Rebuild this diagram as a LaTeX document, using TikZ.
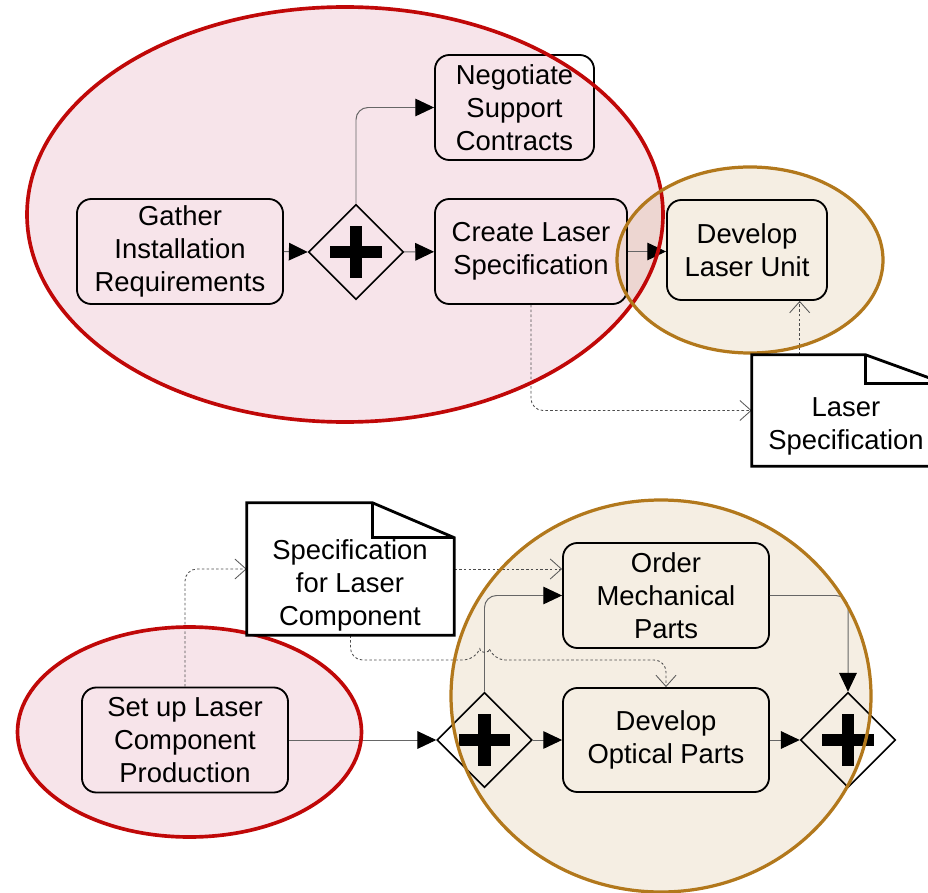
\documentclass[tikz,border=0pt]{standalone}
\usepackage{fontspec}
\setmainfont{Liberation Sans}
\usetikzlibrary{shapes.geometric,arrows.meta}

\definecolor{poolpink}{RGB}{247,228,234}
\definecolor{poolred}{RGB}{192,8,8}
\definecolor{pooltan}{RGB}{245,238,227}
\definecolor{poolbrown}{RGB}{178,120,28}
\definecolor{poolmix}{RGB}{237,214,209}

\begin{document}
\begin{tikzpicture}[x=0.025cm, y=-0.025cm,
    font=\fontsize{19.5}{23.5}\selectfont,
    task/.style={draw, line width=1.3pt, rounded corners=0.36cm, align=center,
        inner sep=0pt, minimum height=2.625cm},
    gateway/.style={draw, diamond, line width=1.1pt, inner sep=0pt,
        minimum width=2.375cm, minimum height=2.375cm,
        path picture={
            \fill ([xshift=-0.64cm,yshift=-0.16cm]path picture bounding box.center) rectangle ++(1.28cm,0.32cm);
            \fill ([xshift=-0.16cm,yshift=-0.64cm]path picture bounding box.center) rectangle ++(0.32cm,1.28cm);}},
    flow/.style={draw=black!60, line width=0.7pt, rounded corners=0.3cm,
        -{Triangle[length=0.47cm,width=0.44cm,color=black]}},
    assoc/.style={draw=black!70, line width=0.6pt, dash pattern=on 1.8pt off 1.6pt,
        rounded corners=0.3cm, -{Straight Barb[length=0.28cm,width=0.5cm,color=black!65]}},
    docline/.style={draw, fill=white, line width=2pt},
    doctext/.style={align=center, inner sep=0pt}]

    \useasboundingbox (0,0) rectangle (928,893);
    \clip (0,0) rectangle (928,893);

    % pools, filled first
    \fill [poolpink] (345,214.5) ellipse [x radius=318, y radius=207.5];
    \fill [pooltan] (750,260) ellipse [x radius=133, y radius=93];
    \begin{scope}
        \clip (345,214.5) ellipse [x radius=318, y radius=207.5];
        \fill [poolmix] (750,260) ellipse [x radius=133, y radius=93];
    \end{scope}
    \fill [poolpink] (189.5,732) ellipse [x radius=172, y radius=105];
    \fill [pooltan] (661,696) ellipse [x radius=210, y radius=196];

    % upper process
    \node [task, minimum width=5.15cm] (gather) at (180,251.5) {Gather\\Installation\\Requirements};
    \node [gateway] (g1) at (356,252) {};
    \node [task, minimum width=3.975cm] (negot) at (514.5,107.5) {Negotiate\\Support\\Contracts};
    \node [task, minimum width=4.8cm] (create) at (531,251.5) {Create Laser\\Specification};
    \node [task, minimum width=4cm, minimum height=2.5cm] (devunit) at (747,250) {Develop\\Laser Unit};

    % lower process
    \node [task, minimum width=5.15cm] (setup) at (185,740) {Set up Laser\\Component\\Production};
    \node [gateway] (g2) at (484.5,740) {};
    \node [task, minimum width=5.15cm] (ordermech) at (666,595.5) {Order\\Mechanical\\Parts};
    \node [task, minimum width=5.15cm, minimum height=2.6cm] (devopt) at (666,740) {Develop\\Optical Parts};
    \node [gateway] (g3) at (848,740) {};

    % data objects
    \node [minimum width=4.825cm, minimum height=2.775cm, inner sep=0pt] (lspec) at (848.5,410.5) {};
    \node [minimum width=5.175cm, minimum height=3.3cm, inner sep=0pt] (cspec) at (350.5,569) {};
    \coordinate (jump) at (484.5,660);

    % sequence flows
    \draw [flow] (gather.east) -- (g1.west);
    \draw [flow] (g1) -- (create);
    \draw [flow] (g1.north) |- (negot.west);
    \draw [flow] (create.east) -- (create.east -| devunit.west);
    \draw [flow] (setup.east) -- (g2.west);
    \draw [flow] (g2.north) |- (ordermech.west);
    \draw [flow] (g2) -- (devopt);
    \draw [flow] (devopt) -- (g3);
    \draw [flow] (ordermech.east) -| (g3.north);

    % data associations
    \draw [assoc] (create.south) |- (lspec.west);
    \draw [assoc] ([xshift=1.2cm]lspec.north west) -- ([xshift=1.2cm]lspec.north west |- devunit.south);
    \draw [assoc] (setup.north) |- (cspec.west);
    \draw [assoc] (cspec.east) -- (cspec.east -| ordermech.west);
    \draw [assoc] (cspec.south) |- ([xshift=-0.22cm]jump) to[bend left=70] ([xshift=0.22cm]jump) -| (devopt.north);

    % pool borders on top
    \draw [poolred, line width=2.6pt] (345,214.5) ellipse [x radius=318, y radius=207.5];
    \draw [poolbrown, line width=2.3pt] (750,260) ellipse [x radius=133, y radius=93];
    \draw [poolred, line width=2.6pt] (189.5,732) ellipse [x radius=172, y radius=105];
    \draw [poolbrown, line width=2.3pt] (661,696) ellipse [x radius=210, y radius=196];

    % document shapes with folded corner
    \draw [docline] (lspec.north west) -- ([xshift=-2cm]lspec.north east) -- ([yshift=-0.725cm]lspec.north east)
        -- (lspec.south east) -- (lspec.south west) -- cycle;
    \draw [line width=2pt] ([xshift=-2cm]lspec.north east) -- ++(0,-0.725cm) -- ([yshift=-0.725cm]lspec.north east);
    \node [doctext] (lspectext) at (846,426) {Laser\\Specification};

    \draw [docline] (cspec.north west) -- ([xshift=-2.05cm]cspec.north east) -- ([yshift=-0.875cm]cspec.north east)
        -- (cspec.south east) -- (cspec.south west) -- cycle;
    \draw [line width=2pt] ([xshift=-2.05cm]cspec.north east) -- ++(0,-0.875cm) -- ([yshift=-0.875cm]cspec.north east);
    \node [doctext] (cspectext) at (350,585) {Specification\\for Laser\\Component};
\end{tikzpicture}
\end{document}
